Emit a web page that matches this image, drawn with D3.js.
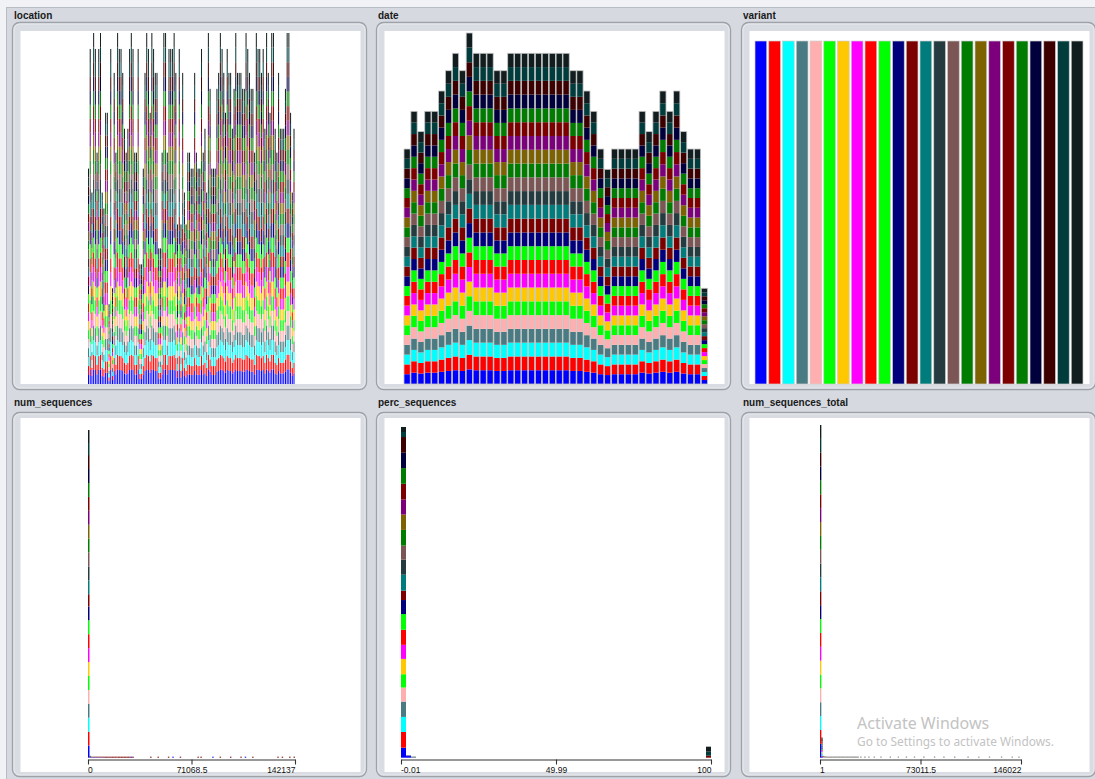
<!DOCTYPE html>
<html><head><meta charset="utf-8">
<script src="https://cdn.jsdelivr.net/npm/d3@7"></script>
<style>
html,body{margin:0;padding:0;background:#f1f2f5;overflow:hidden;}
svg{display:block;}
</style></head><body>
<svg id="c" width="1095" height="779"></svg>
<script>
// ---------------- DATA ----------------
const variants = ["Alpha","B.1.1.277","B.1.1.302","B.1.1.519","B.1.160","B.1.177","B.1.221","B.1.258","B.1.367","B.1.620","Beta","Delta","Epsilon","Eta","Gamma","Iota","Kappa","Lambda","Mu","Omicron","S:677H.Robin1","S:677P.Pelican","others","non_who"];
const variantColors = ["#0000ff","#ff0000","#00ffff","#4b7b82","#ffafaf","#00ff00","#ffc800","#ff00ff","#ff0000","#00ff00","#00007c","#7c0000","#007c7c","#243c3f","#7c5555","#007c00","#7c6200","#7c007c","#7c0000","#007c00","#00003c","#3c0000","#003c3c","#111d1e"];

const locations = ["Angola","Argentina","Aruba","Australia","Austria","Bahrain","Bangladesh","Belgium","Belize","Benin","Botswana","Brazil","Bulgaria","Cambodia","Cameroon","Canada","Chile","China","Colombia","Costa Rica","Croatia","Curacao","Cyprus","Czechia","Denmark","Djibouti","Dominican Republic","Ecuador","Egypt","Estonia","Ethiopia","Fiji","Finland","France","Gabon","Gambia","Georgia","Germany","Ghana","Greece","Guatemala","Hong Kong","Hungary","Iceland","India","Indonesia","Iran","Iraq","Ireland","Israel","Italy","Jamaica","Japan","Jordan","Kazakhstan","Kenya","Kosovo","Kuwait","Latvia","Lebanon","Liechtenstein","Lithuania","Luxembourg","Malawi","Malaysia","Maldives","Malta","Mauritius","Mexico","Moldova","Monaco","Mongolia","Montenegro","Morocco","Mozambique","Namibia","Nepal","Netherlands","New Zealand","Nigeria","North Macedonia","Norway","Oman","Pakistan","Panama","Papua New Guinea","Paraguay","Peru","Philippines","Poland","Portugal","Qatar","Romania","Russia","Rwanda","Saudi Arabia","Senegal","Serbia","Singapore","Sint Maarten (Dutch part)","Slovakia","Slovenia","South Africa","South Korea","Spain","Sri Lanka","Suriname","Sweden","Switzerland","Thailand","Togo","Trinidad and Tobago","Tunisia","Turkey","Uganda","Ukraine","United Arab Emirates","United Kingdom","United States","Uruguay","Vietnam"];
// number of dates reported per location (each date contributes one row per variant)
const datesPerLocation = [27,42,24,44,42,29,42,44,24,22,34,34,10,42,12,39,29,44,42,42,39,32,29,32,42,44,42,29,29,42,15,15,27,39,44,42,34,44,42,39,39,17,17,29,44,44,29,42,42,42,44,39,20,42,20,39,24,20,29,29,27,27,39,29,27,27,42,29,32,24,44,37,27,27,27,37,39,44,42,39,34,42,39,39,32,37,44,39,39,39,37,37,44,42,39,37,37,29,44,42,42,39,42,32,44,39,34,44,44,32,29,39,32,32,32,37,44,44,34,24,32];

const dates = ["2020-05-11","2020-05-25","2020-06-08","2020-06-22","2020-07-06","2020-07-20","2020-08-03","2020-08-17","2020-08-31","2020-09-14","2020-09-28","2020-10-12","2020-10-26","2020-11-09","2020-11-23","2020-12-07","2020-12-21","2021-01-04","2021-01-18","2021-02-01","2021-02-15","2021-03-01","2021-03-15","2021-03-29","2021-04-12","2021-04-26","2021-05-10","2021-05-24","2021-06-07","2021-06-21","2021-07-05","2021-07-19","2021-08-02","2021-08-16","2021-08-30","2021-09-13","2021-09-27","2021-10-11","2021-10-25","2021-11-08","2021-11-22","2021-12-06","2021-12-20","2022-01-05"];
// number of locations reporting per date
const locationsPerDate = [81,94,87,94,94,101,108,114,108,121,114,114,114,108,108,114,114,114,114,114,114,114,114,114,108,108,101,94,81,74,81,81,81,81,94,87,94,101,94,101,87,81,81,33];

// rows per variant (variant panel)
const rowsPerVariant = [4184,4184,4184,4184,4184,4184,4184,4184,4184,4184,4184,4184,4184,4184,4184,4184,4184,4184,4184,4184,4184,4184,4184,4184];

// num_sequences histogram
const numSeqDomain = [0, 142137];
const numSeqBinCount = 140;
const numSeqFirstBin = [3650,4150,4170,4160,4150,4180,4170,4175,4180,4165,4100,3700,4150,4180,4160,4140,4180,4180,4140,4180,4184,4180,3600,3900];
// [bin, variant index, count]
const numSeqOtherBins = [[1,0,160],[1,11,210],[1,22,120],[1,19,60],[2,0,90],[2,11,130],[2,22,70],[3,0,60],[3,11,95],[3,22,40],[4,0,45],[4,11,70],[5,0,30],[5,11,60],[6,0,25],[6,11,45],[7,0,20],[7,11,40],[8,0,15],[8,11,35],[9,0,12],[9,11,30],[10,0,10],[10,11,26],[11,11,22],[12,11,20],[13,11,18],[14,0,6],[14,11,16],[15,11,14],[16,11,13],[17,11,11],[18,11,10],[19,0,4],[19,11,9],[20,11,8],[21,11,8],[22,11,7],[23,11,6],[24,11,6],[25,11,5],[26,11,5],[27,11,4],[28,11,4],[29,0,3],[30,11,3],[42,11,2],[47,11,2],[54,11,1],[57,0,1],[62,11,2],[74,11,1],[76,11,1],[84,0,1],[89,11,1],[96,11,1],[103,11,1],[106,0,1],[111,11,1],[128,11,1],[131,11,1],[136,11,1],[139,11,1]];
const numSeqTicks = [0, 71068.5, 142137];
const numSeqTickLabels = ["0","71068.5","142137"];

// perc_sequences histogram
const percDomain = [-0.01, 100];
const percBinCount = 62;
const percFirstBin = [2620,4110,3930,4010,3670,3480,4010,3670,3930,4110,3670,2440,4180,3930,3670,4110,4010,3930,4110,4110,4010,4110,1310,1310];
const percOtherBins = [[1,0,420],[1,10,140],[2,3,150],[2,13,110],[61,11,520],[61,22,1050],[61,23,1310]];
const percTicks = [-0.01, 49.995, 100];
const percTickLabels = ["-0.01","49.99","100"];

// num_sequences_total histogram (each location-date gives one row per variant)
const totalDomain = [1, 146022];
const totalBinCount = 150;
// [bin, location-dates in bin]
const totalBins = [[0,3750],[1,227],[2,20],[3,15],[4,12],[5,10],[6,9],[7,8],[8,7],[9,6],[10,6],[11,5],[12,5],[13,4],[14,4],[15,3],[16,3],[17,3],[18,2],[19,2],[20,2],[21,2],[22,2],[23,1],[24,1],[25,1],[26,1],[27,1],[28,1],[30,1],[33,1],[36,1],[40,1],[45,1],[52,1],[58,1],[64,1],[70,1],[77,1],[85,1],[92,1],[100,1],[110,1],[118,1],[126,1],[135,1],[143,1],[148,1]];
const totalTicks = [1, 73011.5, 146022];
const totalTickLabels = ["1","73011.5","146022"];

// ---------------- LAYOUT ----------------
const svg = d3.select("#c");
const W = 1095, H = 779;
const colX = [12, 376, 741];
const frameW = 354;
const rows = [{fy:22, fh:367, wy:31, wh:353, ty:18.5},{fy:412, fh:364, wy:418, wh:354, ty:405.5}];

svg.append("rect").attr("x",0).attr("y",0).attr("width",W).attr("height",H).attr("fill","#f1f2f5");
svg.append("rect").attr("x",6.5).attr("y",7.5).attr("width",W).attr("height",H).attr("fill","#d6d9e0").attr("stroke","#b8bcc3");

const titles = [["location","date","variant"],["num_sequences","perc_sequences","num_sequences_total"]];
rows.forEach((r,ri)=>{
  colX.forEach((cx,ci)=>{
    svg.append("rect").attr("x",cx+0.5).attr("y",r.fy+0.5).attr("width",frameW).attr("height",r.fh)
      .attr("rx",7).attr("fill","#d9dce2").attr("stroke","#9da1a8").attr("stroke-width",1.3);
    svg.append("rect").attr("x",cx+2).attr("y",r.fy+2).attr("width",frameW-3).attr("height",r.fh-3)
      .attr("rx",6).attr("fill","none").attr("stroke","#eceef1").attr("stroke-width",0.8);
    svg.append("rect").attr("x",cx+8.5).attr("y",r.wy).attr("width",340).attr("height",r.wh).attr("fill","#ffffff");
    svg.append("text").attr("x",cx+2).attr("y",r.ty).text(titles[ri][ci])
      .attr("font-family","Liberation Sans, Arial, sans-serif").attr("font-weight","bold").attr("font-size","10px").attr("fill","#1a1a1a");
  });
});

const keys = d3.range(variants.length);
const stack = d3.stack().keys(keys).value((d,k)=>d.vals[k]);

// ---------------- NOMINAL (top row) ----------------
function drawNominal(cats, perVariantVals, opts){
  const rowsData = cats.map((c,i)=>({cat:i, vals: perVariantVals(i)}));
  const series = stack(rowsData);
  const totals = rowsData.map(d=>d3.sum(d.vals));
  const xb = d3.scaleBand().domain(d3.range(cats.length)).range([opts.x0, opts.x1]).paddingInner(opts.pad).paddingOuter(0);
  const y = d3.scaleLinear().domain([0, d3.max(totals)]).range([opts.yb, opts.yt]);
  const g = svg.append("g");
  series.forEach((s,k)=>{
    g.selectAll(null).data(s.filter(d=>d[1]>d[0])).enter().append("rect")
      .attr("x",d=>xb(d.data.cat)).attr("width",xb.bandwidth())
      .attr("y",d=>y(d[1])).attr("height",d=>y(d[0])-y(d[1]))
      .attr("fill",variantColors[k]);
  });
  if (opts.outline){
    g.selectAll(null).data(rowsData).enter().append("rect")
      .attr("x",d=>xb(d.cat)).attr("width",xb.bandwidth())
      .attr("y",(d,i)=>y(totals[i])).attr("height",(d,i)=>y(0)-y(totals[i]))
      .attr("fill","none").attr("stroke",opts.outline).attr("stroke-width",opts.ow);
  }
}

drawNominal(locations, i=>keys.map(()=>datesPerLocation[i]), {x0:88, x1:294.5, yb:384, yt:33, pad:0.42});
drawNominal(dates, i=>keys.map(()=>locationsPerDate[i]), {x0:404, x1:707.5, yb:384, yt:33, pad:0.1, outline:"#c4c4c4", ow:0.8});
drawNominal(variants, i=>keys.map(k=>k===i?rowsPerVariant[i]:0), {x0:755, x1:1083, yb:384, yt:41, pad:0.145, outline:"#cfcfcf", ow:0.7});

// ---------------- NUMERIC (bottom row) ----------------
function drawHist(bins, opts){
  const n = bins.length;
  const w = (opts.domain[1]-opts.domain[0])/n;
  const xs = d3.scaleLinear().domain(opts.domain).range([opts.x0, opts.x1]);
  const rowsData = bins.map((v,i)=>({bin:i, vals:v}));
  const series = stack(rowsData);
  const totals = rowsData.map(d=>d3.sum(d.vals));
  const yb = opts.axisY - 1.8;
  const y = d3.scaleLinear().domain([0, d3.max(totals)]).range([yb, opts.yt]);
  // bars with a count are at least 1px tall
  const kf = totals.map(t=> t>0 && (yb - y(t)) < 1 ? 1/(yb - y(t)) : 1);
  const py = (v,i)=> yb - (yb - y(v))*kf[i];
  const g = svg.append("g");
  series.forEach((s,k)=>{
    g.selectAll(null).data(s.filter(d=>d[1]>d[0])).enter().append("rect")
      .attr("x",d=>xs(opts.domain[0]+d.data.bin*w))
      .attr("width",d=>xs(opts.domain[0]+(d.data.bin+1)*w)-xs(opts.domain[0]+d.data.bin*w))
      .attr("y",d=>py(d[1],d.data.bin)).attr("height",d=>py(d[0],d.data.bin)-py(d[1],d.data.bin))
      .attr("fill",variantColors[k]);
  });
  const ax = d3.axisBottom(xs).tickValues(opts.ticks).tickFormat((d,i)=>opts.labels[i])
    .tickSize(5).tickSizeOuter(0).tickPadding(2);
  const ag = svg.append("g").attr("transform",`translate(0,${opts.axisY})`).call(ax);
  ag.select(".domain").attr("stroke","#333").attr("stroke-width",1.2);
  ag.selectAll(".tick line").attr("stroke","#333").attr("stroke-width",1.1);
  ag.selectAll(".tick text").attr("fill","#111").attr("font-size","8.5px")
    .attr("font-family","Liberation Sans, Arial, sans-serif")
    .attr("text-anchor",(d,i)=> i===0?"start":(i===opts.ticks.length-1?"end":"middle"))
    .attr("dx",(d,i)=> i===0?"-0.5":"0");
}

function emptyBins(n){ return d3.range(n).map(()=>keys.map(()=>0)); }

const nsBins = emptyBins(numSeqBinCount);
numSeqFirstBin.forEach((c,k)=>{ nsBins[0][k] += c; });
numSeqOtherBins.forEach(([b,k,c])=>{ nsBins[b][k] += c; });
drawHist(nsBins, {domain:numSeqDomain, x0:88, x1:295, axisY:759.5, yt:430, ticks:numSeqTicks, labels:numSeqTickLabels});

const pBins = emptyBins(percBinCount);
percFirstBin.forEach((c,k)=>{ pBins[0][k] += c; });
percOtherBins.forEach(([b,k,c])=>{ pBins[b][k] += c; });
drawHist(pBins, {domain:percDomain, x0:401, x1:711, axisY:759.5, yt:427, ticks:percTicks, labels:percTickLabels});

const tBins = emptyBins(totalBinCount);
totalBins.forEach(([b,c])=>{ keys.forEach(k=>{ tBins[b][k] += c; }); });
drawHist(tBins, {domain:totalDomain, x0:820, x1:1021, axisY:759.5, yt:425, ticks:totalTicks, labels:totalTickLabels});

// ---------------- watermark text seen on the screenshot ----------------
svg.append("text").attr("x",857).attr("y",729).text("Activate Windows")
  .attr("font-family","Noto Sans, Open Sans, sans-serif").attr("font-size","16px").attr("fill","#c3c3c3");
svg.append("text").attr("x",857).attr("y",746).text("Go to Settings to activate Windows.")
  .attr("font-family","Noto Sans, Open Sans, sans-serif").attr("font-size","11.9px").attr("fill","#c3c3c3");
</script>
</body></html>
